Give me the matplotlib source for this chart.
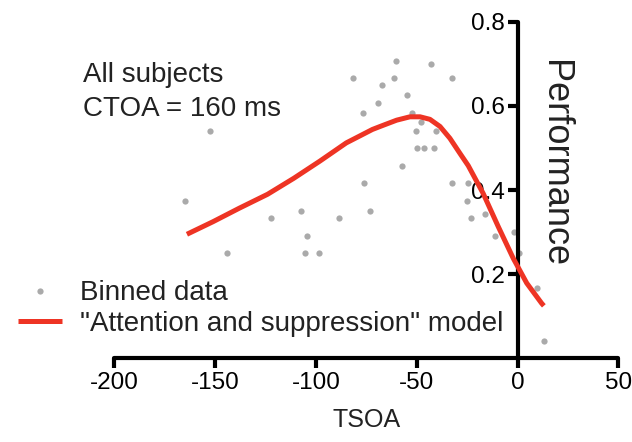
import numpy as np
import matplotlib.pyplot as plt

plt.rcParams['font.family'] = ['Liberation Sans', 'DejaVu Sans']
plt.rcParams['axes.unicode_minus'] = False

# binned data (TSOA in ms, performance)
tsoa_bins = [-164.8, -152.6, -144.0, -122.1, -107.4, -105.5, -104.5, -98.5,
             -88.7, -81.7, -76.8, -76.1, -73.1, -69.3, -67.5, -61.1, -60.1,
             -57.5, -54.9, -52.3, -50.3, -50.1, -48.0, -46.3, -43.0, -41.3,
             -40.5, -32.7, -32.8, -24.6, -25.0, -23.3, -16.1, -11.1, -1.8,
             0.6, 9.4, 13.0]
perf_bins = [0.375, 0.541, 0.250, 0.333, 0.350, 0.250, 0.292, 0.250,
             0.333, 0.667, 0.583, 0.416, 0.350, 0.607, 0.650, 0.667, 0.707,
             0.458, 0.625, 0.584, 0.541, 0.499, 0.562, 0.499, 0.700, 0.499,
             0.541, 0.667, 0.416, 0.416, 0.375, 0.334, 0.344, 0.292, 0.300,
             0.250, 0.168, 0.042]

# model fit
tsoa_model = [-164, -151, -138, -124, -111, -98, -85, -72, -66.6, -60,
              -53.4, -48.4, -43.5, -38.5, -33.6, -28.6, -24.5, -17.1, -9.6,
              -2.2, 4.5, 11.9, 13]
perf_model = [0.295, 0.325, 0.357, 0.390, 0.428, 0.469, 0.512, 0.544, 0.554,
              0.566, 0.574, 0.574, 0.568, 0.551, 0.523, 0.487, 0.458, 0.392,
              0.313, 0.238, 0.179, 0.131, 0.125]

xticks = [-200, -150, -100, -50, 0, 50]
yticks = [0.2, 0.4, 0.6, 0.8]

fig = plt.figure(figsize=(6.32, 4.42), dpi=100)
ax = fig.add_axes([0.1809, 0.189, 0.7977, 0.762])

ax.plot(tsoa_bins, perf_bins, 'o', color='#aaaaaa', markersize=4.5,
        markeredgewidth=0, label='Binned data', zorder=2)
ax.plot(tsoa_model, perf_model, '-', color='#ee3424', linewidth=3.6,
        solid_joinstyle='round', solid_capstyle='butt',
        label='"Attention and suppression" model', zorder=3)

ax.set_xlim(-200, 50)
ax.set_ylim(0, 0.8)
ax.set_xticks(xticks)
ax.set_yticks(yticks)
ax.set_xticklabels([str(t) for t in xticks])
ax.set_yticklabels([str(t) for t in yticks])

for s in ['top', 'right']:
    ax.spines[s].set_visible(False)
ax.spines['left'].set_position(('data', 0))
for s in ['left', 'bottom']:
    ax.spines[s].set_linewidth(3)
    ax.spines[s].set_capstyle('round')
ax.tick_params(axis='both', direction='out', length=7, width=3,
               labelsize=17.5, pad=2)
ax.tick_params(axis='x', pad=3)

ax.set_xlabel('TSOA', fontsize=18, color='#222222', labelpad=10)
fig.text(554 / 632, 1 - 164 / 442, 'Performance', rotation=270,
         ha='center', va='center', fontsize=26, color='#222222')

fig.text(83 / 632, 1 - 82 / 442, 'All subjects', fontsize=20,
         color='#222222', va='baseline')
fig.text(83 / 632, 1 - 116 / 442, 'CTOA = 160 ms', fontsize=20,
         color='#222222', va='baseline')

leg = fig.legend(loc='center left', bbox_to_anchor=(18 / 632, 1 - 308.5 / 442),
                 frameon=False, fontsize=20, handlelength=1.6,
                 handletextpad=0.62, labelspacing=0.15, borderpad=0,
                 borderaxespad=0, markerscale=1.0)
for t in leg.get_texts():
    t.set_color('#222222')

fig.savefig('out.png', dpi=100)
